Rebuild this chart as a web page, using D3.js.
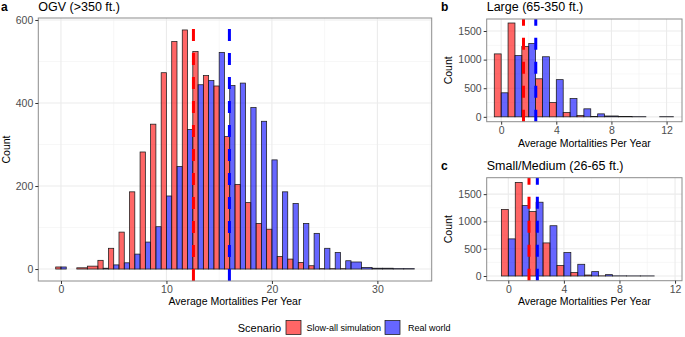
<!DOCTYPE html>
<html><head><meta charset="utf-8">
<script src="https://cdn.jsdelivr.net/npm/d3@7"></script>
<style>
html,body{margin:0;padding:0;background:#fff;}
svg{display:block;font-family:"Liberation Sans",Arial,Helvetica,sans-serif;}
</style></head>
<body><svg id="chart" width="685" height="337"></svg>
<script>
// ---------- DATA ----------
// Panel a: OGV (>350 ft.)  (null = no bar in that bin for that scenario)
const binsA = d3.range(0, 34);
const slowA = [5,null,3,7,21,50,89,186,282,349,473,548,576,524,466,441,319,204,160,110,96,30,24,16,8,1,1,1,null,null,null,null,null,null];
const realA = [5,null,null,null,2,10,15,36,65,102,176,247,336,444,454,522,442,448,389,356,263,186,158,110,86,50,40,20,17,4,2,2,1,1];
const meanA = [12.56, 15.97];
const xTicksA = [0,10,20,30];
const yTicksA = [0,200,400,600];

// Panel b: Large (65-350 ft.)
const binsB = d3.range(0, 13);
const slowB = [1100,1640,1230,665,250,75,23,8,null,null,null,null,null];
const realB = [420,1070,1280,1050,650,320,140,52,15,5,3,null,3];
const meanB = [1.62, 2.51];
const xTicksBC = [0,4,8,12];
const yTicksBC = [0,500,1000,1500];

// Panel c: Small/Medium (26-65 ft.)
const binsC = d3.range(0, 11);
const slowC = [1220,1715,1180,606,194,63,18,3,null,null,null];
const realC = [680,1290,1352,921,430,215,80,25,3,2,2];
const meanC = [1.49, 2.09];

const scenarios = ["Slow-all simulation","Real world"];
const titles = ["OGV (>350 ft.)","Large (65-350 ft.)","Small/Medium (26-65 ft.)"];
const tags = ["a","b","c"];

// ---------- STYLE ----------
const FILL = ["rgba(255,0,0,0.6)","rgba(0,0,255,0.6)"];
const LINE = ["#ff0000","#0000ff"];

const svg = d3.select("#chart");

function panel(cfg){
  const {x, y, bins, s1, s2, means, xt, yt, yminor, xminor, tag, title, tagX, titleY, countX, xlabY} = cfg;
  const g = svg.append("g");
  const [x0,x1] = x.range(); const [y0,y1] = y.range();
  // background gridlines
  g.selectAll(".gminx").data(xminor).join("line")
    .attr("x1",d=>x(d)).attr("x2",d=>x(d)).attr("y1",y0).attr("y2",y1)
    .attr("stroke","#f2f2f2").attr("stroke-width",0.6);
  g.selectAll(".gminy").data(yminor).join("line")
    .attr("y1",d=>y(d)).attr("y2",d=>y(d)).attr("x1",x0).attr("x2",x1)
    .attr("stroke","#f2f2f2").attr("stroke-width",0.6);
  g.selectAll(".gx").data(xt).join("line")
    .attr("x1",d=>x(d)).attr("x2",d=>x(d)).attr("y1",y0).attr("y2",y1)
    .attr("stroke","#ebebeb").attr("stroke-width",1.1);
  g.selectAll(".gy").data(yt).join("line")
    .attr("y1",d=>y(d)).attr("y2",d=>y(d)).attr("x1",x0).attr("x2",x1)
    .attr("stroke","#ebebeb").attr("stroke-width",1.1);

  // bars
  const rects = [];
  bins.forEach((c,i)=>{
    const a = s1[i], b = s2[i];
    if(a!=null && b!=null){
      rects.push({l:c-0.5,r:c,v:a,k:0});
      rects.push({l:c,r:c+0.5,v:b,k:1});
    } else if(a!=null){
      rects.push({l:c-0.5,r:c+0.5,v:a,k:0});
    } else if(b!=null){
      rects.push({l:c-0.5,r:c+0.5,v:b,k:1});
    }
  });
  g.selectAll(".bar").data(rects).join("rect")
    .attr("x",d=>x(d.l)).attr("width",d=>x(d.r)-x(d.l))
    .attr("y",d=>y(d.v)).attr("height",d=>Math.max(0.01,y(0)-y(d.v)))
    .attr("fill",d=>FILL[d.k]).attr("stroke","#1a1a1a").attr("stroke-width",0.75);

  // mean lines (drawn bottom to top)
  g.selectAll(".mean").data(means).join("line")
    .attr("x1",d=>x(d)).attr("x2",d=>x(d)).attr("y1",y0).attr("y2",y1)
    .attr("stroke",(d,i)=>LINE[i]).attr("stroke-width",3).attr("stroke-dasharray","12,12");

  // border
  g.append("rect").attr("x",x0).attr("y",y1).attr("width",x1-x0).attr("height",y0-y1)
    .attr("fill","none").attr("stroke","#8c8c8c").attr("stroke-width",1);

  // axes
  const ax = g.append("g").attr("transform",`translate(0,${y0})`)
    .call(d3.axisBottom(x).tickValues(xt).tickFormat(d3.format("d")).tickSize(3).tickPadding(2));
  const ay = g.append("g").attr("transform",`translate(${x0},0)`)
    .call(d3.axisLeft(y).tickValues(yt).tickFormat(d3.format("d")).tickSize(3).tickPadding(2));
  [ax,ay].forEach(a=>{
    a.select(".domain").remove();
    a.selectAll(".tick line").attr("stroke","#333333");
    a.selectAll(".tick text").attr("fill","#4d4d4d").style("font-size","10.5px")
      .style("font-family",'"Liberation Sans",Arial,sans-serif');
  });

  // titles
  svg.append("text").attr("x",tagX).attr("y",titleY).text(tag)
    .style("font-weight","bold").style("font-size","12px").attr("fill","#000");
  svg.append("text").attr("x",x0).attr("y",titleY).text(title)
    .style("font-size","12.5px").attr("fill","#000");
  svg.append("text").attr("transform",`translate(${countX},${(y0+y1)/2}) rotate(-90)`)
    .attr("text-anchor","middle").text("Count").style("font-size","10.5px").attr("fill","#000");
  svg.append("text").attr("x",(x0+x1)/2).attr("y",xlabY).attr("text-anchor","middle")
    .text("Average Mortalities Per Year").style("font-size","10.5px").attr("fill","#000");
}

panel({
  x: d3.scaleLinear([-2.15,35.15],[38.3,431.7]),
  y: d3.scaleLinear([-28.8,604.8],[281,18]),
  bins: binsA, s1: slowA, s2: realA, means: meanA,
  xt: xTicksA, yt: yTicksA, xminor:[5,15,25,35], yminor:[100,300,500],
  tag: tags[0], title: titles[0], tagX: 1, titleY: 11, countX: 10, xlabY: 305
});
panel({
  x: d3.scaleLinear([-1.05,13.12],[486.7,682]),
  y: d3.scaleLinear([-85,1710],[121.7,19]),
  bins: binsB, s1: slowB, s2: realB, means: meanB,
  xt: xTicksBC, yt: yTicksBC, xminor:[2,6,10], yminor:[250,750,1250],
  tag: tags[1], title: titles[1], tagX: 441, titleY: 11, countX: 452, xlabY: 147
});
panel({
  x: d3.scaleLinear([-1.555,12.5],[486.7,682]),
  y: d3.scaleLinear([-86,1801],[280.7,177.7]),
  bins: binsC, s1: slowC, s2: realC, means: meanC,
  xt: xTicksBC, yt: yTicksBC, xminor:[2,6,10], yminor:[250,750,1250],
  tag: tags[2], title: titles[2], tagX: 441, titleY: 170, countX: 452, xlabY: 305
});

// legend
const lg = svg.append("g");
lg.append("text").attr("x",237.7).attr("y",332).text("Scenario").style("font-size","11px").attr("fill","#000");
const keyX = [286, 385];
const labX = [306.5, 408];
scenarios.forEach((s,i)=>{
  lg.append("rect").attr("x",keyX[i]).attr("y",320.5).attr("width",15).attr("height",14)
    .attr("fill",FILL[i]).attr("stroke","#1a1a1a").attr("stroke-width",0.75);
  lg.append("text").attr("x",labX[i]).attr("y",331).text(s).style("font-size","9px").attr("fill","#000");
});
</script>
</body></html>
